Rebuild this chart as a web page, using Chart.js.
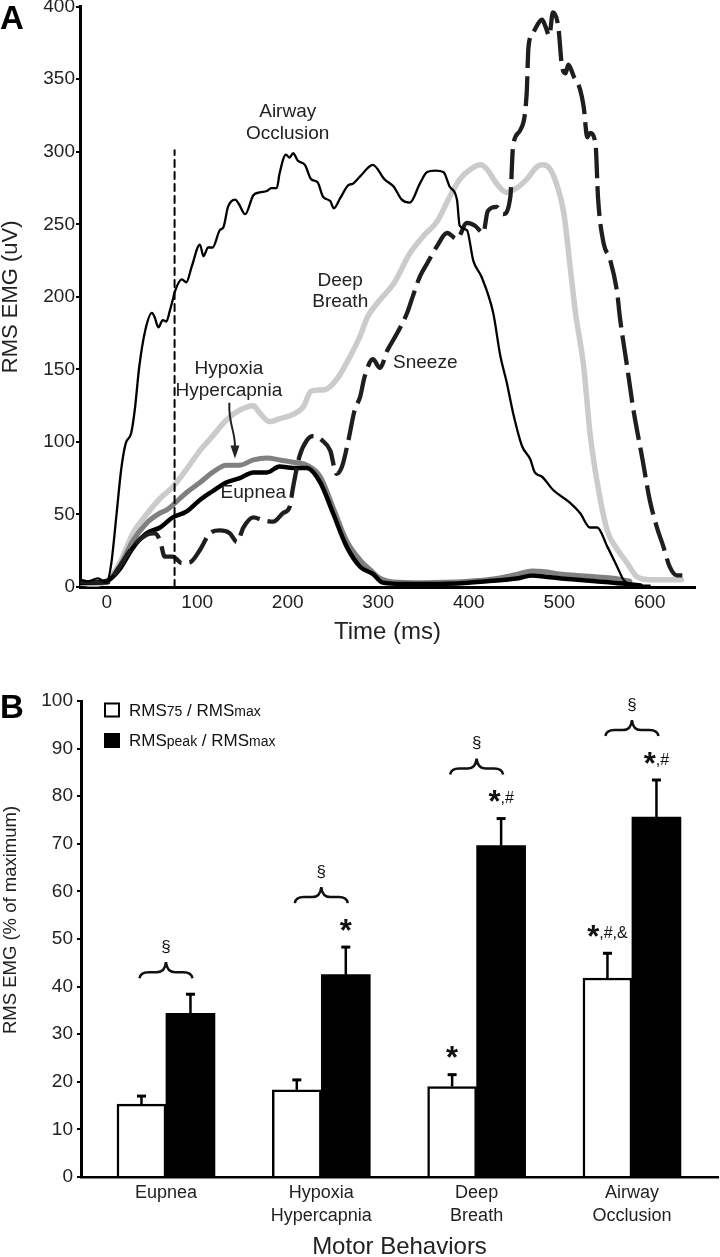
<!DOCTYPE html>
<html><head><meta charset="utf-8">
<script src="https://cdn.jsdelivr.net/npm/chart.js@4/dist/chart.umd.min.js"></script>
<style>
html,body{margin:0;padding:0;background:#fff;width:720px;height:1257px;overflow:hidden;}
#wrapA{position:absolute;left:0;top:0;width:720px;height:660px;}
#wrapB{position:absolute;left:0;top:660px;width:720px;height:597px;}
.panel{position:absolute;font-family:"Liberation Sans",Arial,sans-serif;font-weight:bold;font-size:33px;color:#000;line-height:1;}
</style></head><body>
<div id="wrapA"><canvas id="cA" width="720" height="660"></canvas></div>
<div id="wrapB"><canvas id="cB" width="720" height="597"></canvas></div>
<div class="panel" style="left:0;top:1px">A</div>
<div class="panel" style="left:0;top:690px">B</div>
<script>
const FONT = "'Liberation Sans', Arial, Helvetica, sans-serif";

// ---------- Panel A data (time in ms, RMS EMG in uV) ----------
const airwayTime = [-30,-20,-10,0,5,11,16,21,27,31,36,43,50,53,57,62,66,70,73,75,83,88,94,103,107,112,117,125,129,134,142,146,153,162,169,177,182,188,191,198,202,206,211,219,226,233,239,247,251,258,267,272,280,294,307,317,326,335,346,354,363,372,379,387,390,398,405,414,427,435,442,449,459,468,473,481,493,512,523,534,542,553,564,571,578,590,600];
const airwayValue = [5,4,6,3,16,51,81,99,106,122,152,178,189,186,179,184,183,191,198,203,212,210,221,236,228,234,234,246,248,262,267,264,257,270,272,273,275,275,285,298,296,299,294,291,281,279,269,266,261,268,277,278,283,291,281,276,267,265,278,286,287,286,276,267,249,246,225,214,189,159,141,120,97,88,79,76,67,58,51,41,41,28,14,5,1.5,1,1];

const deepTime = [-30,-15,0,14,29,44,59,73,88,103,117,132,147,162,169,180,191,206,217,226,241,254,269,280,288,302,317,335,350,365,379,390,402,413,420,431,442,453,464,476,482,490,498,505,512,518,527,534,542,553,564,575,586,600,635];
const deepValue = [3,2,4,16,37,50,61,69,81,94,104,115,122,125,120,114,116,119,124,135,136,143,159,173,186,198,209,230,242,252,269,281,288,291,288,278,272,275,281,290,291,288,276,258,221,189,152,106,72,39,26,16.5,7,5,5];

const sneezeTime = [-30,-15,0,14,29,44,53,59,64,73,83,92,103,114,125,136,144,151,162,173,184,195,202,206,213,221,228,238,247,254,260,267,274,280,285,294,302,310,321,332,338,346,354,365,376,387,398,407,416,421,431,438,446,449,457,464,466,471,481,485,489,493,499,503,507,510,516,523,527,531,534,540,543,549,556,564,567,575,582,592,600,608,615,622,630,636];
const sneezeValue = [4,3,3,14,28,36,37,32,21,21,16.5,17,25.5,37,39,37,31,41,48,46,45,51,55,69,90,101,104,101,94,78,83,101,122,131,145,157,151,163,175,189,200,214,223,235,244,240,251,249,244,259,262,257,269,304,315,340,372,382,391,386,380,396,386,359,354,360,352,343,331,310,313,306,267,237,226,203,186,152,122,88,60,41,28,14,8,8];

const eupneaTime = [-30,-15,0,14,29,44,59,73,88,103,117,132,147,162,177,191,206,221,236,250,265,280,294,305,330,360,400,420,440,455,470,485,500,520,540,560,575,590];
const eupneaValue = [3,3,4,12,27,37,41,48,52,60,66,72,75,79,79,83,82,82,72,51,28,14,9,3,2,2,3,4,5,6,8,7,6,5,4,3,2,1];

const hypoxiaTime = [-30,-15,0,14,29,44,59,66,73,88,103,117,132,147,162,177,191,206,221,236,250,265,280,291,302,317,350,400,420,440,455,470,485,500,520,540,560,578];
const hypoxiaValue = [3,3,4,14,32,44,51,53,56.5,65,72,79,84,84,87.6,89,87.6,86,84,76,55,32,18.6,12,6,3.5,3,4,5,7,9,11,10.5,9,8,7,6,4];

const markerTime = 75;      // RMS75 time point (dashed line)
const markerTop = 301;
const xTicksA = [0,100,200,300,400,500,600];
const yTicksA = [0,50,100,150,200,250,300,350,400];

// ---------- Panel B data (% of maximum) ----------
const behaviors = [["Eupnea"],["Hypoxia","Hypercapnia"],["Deep","Breath"],["Airway","Occlusion"]];
const rms75 = [15.3,18.3,19.0,41.8];
const rms75Err = [1.7,2.1,2.5,5.2];
const rmsPeak = [34.4,42.5,69.6,75.6];
const rmsPeakErr = [4.0,5.8,5.7,7.8];
const marks75 = ["","","*","*,#,&"];
const marksPeak = ["","*","*,#","*,#"];
const yTicksB = [0,10,20,30,40,50,60,70,80,90,100];

Chart.defaults.font.family = FONT;
Chart.defaults.color = '#222';

const pts = (t, v) => t.map((x, i) => ({x: x, y: v[i]}));

// ---------- Panel A ----------
const labelsA = [
  {lines:['Airway','Occlusion'], t:200, v:320},
  {lines:['Deep','Breath'], t:258, v:204},
  {lines:['Sneeze'], t:352, v:154.4},
  {lines:['Hypoxia','Hypercapnia'], t:135, v:142.7},
  {lines:['Eupnea'], t:162, v:64.8}
];
const annoA = {
  id:'annoA',
  afterDatasetsDraw(chart){
    const {ctx, scales:{x, y}} = chart;
    ctx.save();
    ctx.fillStyle = '#222';
    ctx.font = '19px ' + FONT;
    ctx.textAlign = 'center';
    ctx.textBaseline = 'middle';
    labelsA.forEach(l => {
      const px = x.getPixelForValue(l.t), py = y.getPixelForValue(l.v);
      l.lines.forEach((s, i) => ctx.fillText(s, px, py + (i - (l.lines.length - 1) / 2) * 21.5));
    });
    // arrow from Hypoxia label to its trace
    const sx = x.getPixelForValue(135.5), sy = y.getPixelForValue(127);
    const ex = x.getPixelForValue(141.7), ey = y.getPixelForValue(88.5);
    ctx.strokeStyle = '#222'; ctx.lineWidth = 2;
    ctx.beginPath();
    ctx.moveTo(sx, sy);
    ctx.bezierCurveTo(sx - 1, sy + 22, ex + 0.5, sy + 28, ex, ey - 11);
    ctx.stroke();
    ctx.fillStyle = '#222';
    ctx.beginPath();
    ctx.moveTo(ex, ey); ctx.lineTo(ex - 4.5, ey - 13); ctx.lineTo(ex + 4.5, ey - 13); ctx.closePath();
    ctx.fill();
    ctx.restore();
  }
};

new Chart(document.getElementById('cA'), {
  type: 'line',
  data: {
    datasets: [
      {label:'Airway Occlusion', data:pts(airwayTime, airwayValue), borderColor:'#000', borderWidth:2.3, order:1},
      {label:'Sneeze', data:pts(sneezeTime, sneezeValue), borderColor:'#1e1e1e', borderWidth:4.3, borderDash:[30,8], borderCapStyle:'butt', order:2},
      {label:'Eupnea', data:pts(eupneaTime, eupneaValue), borderColor:'#000', borderWidth:4.5, order:3},
      {label:'Hypoxia Hypercapnia', data:pts(hypoxiaTime, hypoxiaValue), borderColor:'#808080', borderWidth:5, order:4},
      {label:'Deep Breath', data:pts(deepTime, deepValue), borderColor:'#cbcbcb', borderWidth:5.5, order:5},
      {label:'RMS75', data:[{x:markerTime, y:0}, {x:markerTime, y:markerTop}], borderColor:'#000', borderWidth:2, borderDash:[7,5], cubicInterpolationMode:'default', tension:0, order:0}
    ]
  },
  options: {
    responsive:false, animation:false, devicePixelRatio:1,
    layout:{padding:{left:0, top:6.7, right:25, bottom:0}},
    elements:{point:{radius:0}, line:{cubicInterpolationMode:'monotone', borderCapStyle:'round', borderJoinStyle:'round'}},
    plugins:{legend:{display:false}, tooltip:{enabled:false}},
    scales:{
      x:{
        type:'linear', min:-29.5, max:650,
        afterBuildTicks: s => { s.ticks = xTicksA.map(v => ({value:v})); },
        afterFit: s => { s.height = 73; s.paddingLeft = 0; s.paddingRight = 0; },
        ticks:{font:{size:19, lineHeight:1.2}, color:'#222', padding:4.5, maxRotation:0, autoSkip:false},
        grid:{display:false, drawTicks:false},
        border:{display:true, color:'#000', width:3},
        title:{display:true, text:'Time (ms)', font:{size:24, lineHeight:1}, color:'#222', padding:{top:0, bottom:16}}
      },
      y:{
        type:'linear', min:0, max:400,
        afterBuildTicks: s => { s.ticks = yTicksA.map(v => ({value:v})); },
        afterFit: s => { s.width = 80; s.paddingTop = 0; s.paddingBottom = 0; },
        ticks:{font:{size:19}, color:'#222', padding:1},
        grid:{display:true, drawOnChartArea:false, drawTicks:true, tickLength:4, color:'#000', lineWidth:2},
        border:{display:true, color:'#000', width:3},
        title:{display:true, text:'RMS EMG (uV)', font:{size:22, lineHeight:1}, color:'#222', padding:{top:0, bottom:0}}
      }
    }
  },
  plugins:[annoA]
});

// ---------- Panel B ----------
function drawMark(ctx, cx, cy, str){
  const star = str.charAt(0) === '*';
  const rest = star ? str.slice(1) : str;
  const fBig = 'bold 31px ' + FONT, fSmall = '16px ' + FONT;
  ctx.font = fBig; const w1 = star ? ctx.measureText('*').width : 0;
  ctx.font = fSmall; const w2 = ctx.measureText(rest).width;
  let x0 = cx - (w1 + w2) / 2;
  ctx.textAlign = 'left'; ctx.textBaseline = 'alphabetic'; ctx.fillStyle = '#111';
  if (star){ ctx.font = fBig; ctx.fillText('*', x0, cy + 15.5); x0 += w1; }
  if (rest){ ctx.font = fSmall; ctx.fillText(rest, x0, cy + 6.5); }
}
function drawBrace(ctx, cx, tipY, w){
  const h = w / 2, arm = tipY + 10, end = tipY + 16;
  ctx.beginPath();
  ctx.moveTo(cx - h, end);
  ctx.quadraticCurveTo(cx - h + 1, arm, cx - h + 9, arm);
  ctx.lineTo(cx - 9, arm);
  ctx.quadraticCurveTo(cx - 1, arm, cx, tipY);
  ctx.quadraticCurveTo(cx + 1, arm, cx + 9, arm);
  ctx.lineTo(cx + h - 9, arm);
  ctx.quadraticCurveTo(cx + h - 1, arm, cx + h, end);
  ctx.stroke();
}
function drawRich(ctx, x, baseline, parts){
  ctx.textAlign = 'left'; ctx.textBaseline = 'alphabetic'; ctx.fillStyle = '#111';
  parts.forEach(p => { ctx.font = p[1] + 'px ' + FONT; ctx.fillText(p[0], x, baseline); x += ctx.measureText(p[0]).width; });
}
const annoB = {
  id:'annoB',
  afterDatasetsDraw(chart){
    const {ctx, scales:{x, y}} = chart;
    const series = [{vals:rms75, errs:rms75Err, marks:marks75}, {vals:rmsPeak, errs:rmsPeakErr, marks:marksPeak}];
    ctx.save();
    ctx.strokeStyle = '#000';
    series.forEach((s, di) => {
      chart.getDatasetMeta(di).data.forEach((bar, i) => {
        const top = y.getPixelForValue(s.vals[i] + s.errs[i]);
        ctx.lineWidth = 2.5;
        ctx.beginPath(); ctx.moveTo(bar.x, bar.y); ctx.lineTo(bar.x, top); ctx.stroke();
        ctx.lineWidth = 3;
        ctx.beginPath(); ctx.moveTo(bar.x - 4.5, top); ctx.lineTo(bar.x + 4.5, top); ctx.stroke();
        if (s.marks[i]) drawMark(ctx, bar.x, top - 22, s.marks[i]);
      });
    });
    // braces and section signs
    behaviors.forEach((b, i) => {
      const top = Math.min(y.getPixelForValue(rms75[i] + rms75Err[i]), y.getPixelForValue(rmsPeak[i] + rmsPeakErr[i]));
      const tip = top - (marksPeak[i] ? 60 : 32);
      const cx = x.getPixelForValue(i);
      ctx.strokeStyle = '#111'; ctx.lineWidth = 2.5;
      drawBrace(ctx, cx, tip, 53);
      ctx.fillStyle = '#111'; ctx.font = '17px ' + FONT; ctx.textAlign = 'center'; ctx.textBaseline = 'middle';
      ctx.fillText('§', cx, tip - 15);
    });
    // legend
    ctx.lineWidth = 2; ctx.strokeStyle = '#000'; ctx.fillStyle = '#fff';
    ctx.fillRect(105, 43.5, 14, 13); ctx.strokeRect(105, 43.5, 14, 13);
    ctx.fillStyle = '#000'; ctx.fillRect(104, 73, 16, 15);
    drawRich(ctx, 129, 56, [['RMS',17],['75',14],[' / RMS',17],['max',14]]);
    drawRich(ctx, 129, 86, [['RMS',17],['peak',14],[' / RMS',17],['max',14]]);
    // y axis title
    ctx.save();
    ctx.translate(11, 260); ctx.rotate(-Math.PI / 2);
    ctx.fillStyle = '#222'; ctx.font = '18.5px ' + FONT; ctx.textAlign = 'center'; ctx.textBaseline = 'middle';
    ctx.fillText('RMS EMG (% of maximum)', 0, 0);
    ctx.restore();
    ctx.restore();
  }
};

new Chart(document.getElementById('cB'), {
  type: 'bar',
  data: {
    datasets: [
      {label:'RMS75 / RMSmax', data:pts(behaviors.map((b, i) => i), rms75), backgroundColor:'#fff', borderColor:'#000', borderWidth:2.5, borderSkipped:'bottom', barThickness:49},
      {label:'RMSpeak / RMSmax', data:pts(behaviors.map((b, i) => i), rmsPeak), backgroundColor:'#000', borderColor:'#000', borderWidth:0, barThickness:49}
    ]
  },
  options: {
    responsive:false, animation:false, devicePixelRatio:1,
    layout:{padding:{left:0, top:41, right:2, bottom:0}},
    plugins:{legend:{display:false}, tooltip:{enabled:false}},
    scales:{
      x:{
        type:'linear', min:-0.547, max:3.554, offset:false,
        afterBuildTicks: s => { s.ticks = behaviors.map((b, i) => ({value:i})); },
        afterFit: s => { s.height = 80; s.paddingLeft = 0; s.paddingRight = 0; },
        ticks:{font:{size:18, lineHeight:1.28}, color:'#222', padding:4.5, maxRotation:0, autoSkip:false,
               callback: v => behaviors[Math.round(v)]},
        grid:{display:false, drawTicks:false, offset:false},
        border:{display:true, color:'#000', width:2.5},
        title:{display:true, text:'Motor Behaviors', font:{size:24, lineHeight:0.8}, color:'#222', padding:{top:0, bottom:0.4}}
      },
      y:{
        type:'linear', min:0, max:100,
        afterBuildTicks: s => { s.ticks = yTicksB.map(v => ({value:v})); },
        afterFit: s => { s.width = 81; s.paddingTop = 0; s.paddingBottom = 0; },
        ticks:{font:{size:19}, color:'#222', padding:4},
        grid:{display:true, drawOnChartArea:false, drawTicks:true, tickLength:4, color:'#000', lineWidth:2},
        border:{display:true, color:'#000', width:3}
      }
    }
  },
  plugins:[annoB]
});
</script>
</body></html>
